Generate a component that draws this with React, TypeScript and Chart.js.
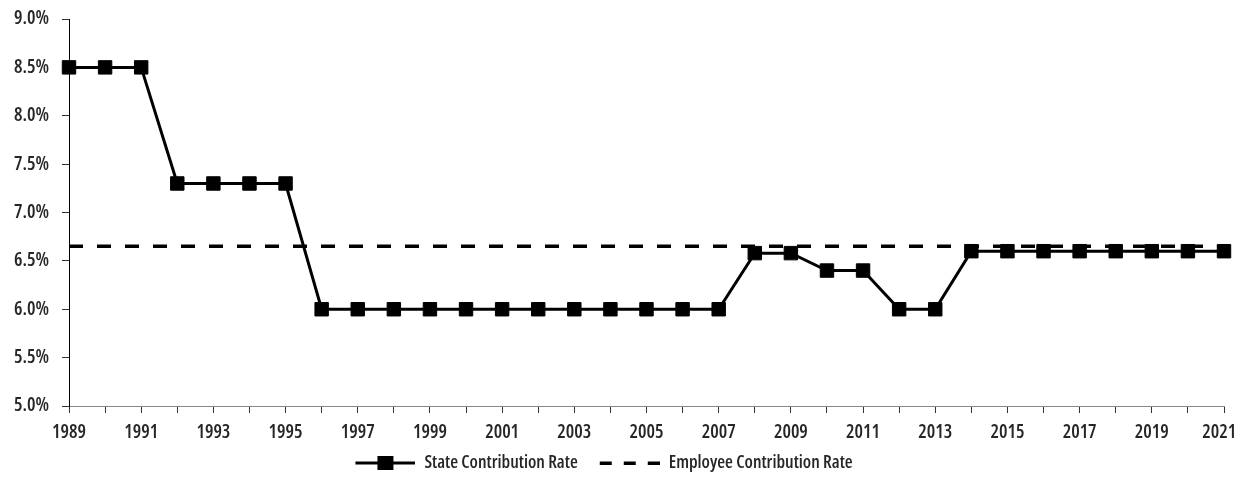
import React, { useEffect, useRef } from "react";
import { Chart, registerables } from "chart.js";

Chart.register(...registerables);

const years: string[] = [
  "1989","1990","1991","1992","1993","1994","1995","1996","1997","1998","1999",
  "2000","2001","2002","2003","2004","2005","2006","2007","2008","2009","2010",
  "2011","2012","2013","2014","2015","2016","2017","2018","2019","2020","2021",
];

const stateRate: number[] = [
  8.5, 8.5, 8.5, 7.3, 7.3, 7.3, 7.3, 6.0, 6.0, 6.0, 6.0,
  6.0, 6.0, 6.0, 6.0, 6.0, 6.0, 6.0, 6.0, 6.58, 6.58, 6.4,
  6.4, 6.0, 6.0, 6.6, 6.6, 6.6, 6.6, 6.6, 6.6, 6.6, 6.6,
];

const employeeRate: number[] = [
  6.65, 6.65, 6.65, 6.65, 6.65, 6.65, 6.65, 6.65, 6.65, 6.65, 6.65,
  6.65, 6.65, 6.65, 6.65, 6.65, 6.65, 6.65, 6.65, 6.65, 6.65, 6.65,
  6.65, 6.65, 6.65, 6.65, 6.65, 6.65, 6.65, 6.65, 6.65, 6.65, 6.65,
];

const FONT = "'Open Sans', 'DejaVu Sans Condensed', sans-serif";
const WEIGHT = "600 condensed";
const TEXT = "#262626";

function makeStateIcon(): HTMLCanvasElement {
  const c = document.createElement("canvas");
  c.width = 72;
  c.height = 16;
  const ctx = c.getContext("2d")!;
  ctx.fillStyle = "#000";
  ctx.fillRect(12, 6.5, 60, 3);
  ctx.fillRect(34, 1, 16, 14);
  return c;
}

function makeEmployeeIcon(): HTMLCanvasElement {
  const c = document.createElement("canvas");
  c.width = 72;
  c.height = 6;
  const ctx = c.getContext("2d")!;
  ctx.fillStyle = "#000";
  ctx.fillRect(12, 1.5, 12, 3.5);
  ctx.fillRect(36, 1.5, 12, 3.5);
  ctx.fillRect(60, 1.5, 12, 3.5);
  return c;
}

export default function App() {
  const ref = useRef<HTMLCanvasElement | null>(null);

  useEffect(() => {
    if (!ref.current) return;
    const stateIcon = makeStateIcon();
    const empIcon = makeEmployeeIcon();
    const last = years.length - 1;
    const chart = new Chart(ref.current, {
      type: "line",
      data: {
        labels: years,
        datasets: [
          {
            label: "State Contribution Rate",
            data: stateRate,
            borderColor: "#000",
            backgroundColor: "#000",
            borderWidth: 3,
            pointStyle: "rect",
            pointRadius: 9.5,
            pointBorderWidth: 1,
            pointBackgroundColor: "#000",
            pointBorderColor: "#000",
            tension: 0,
            order: 1,
          },
          {
            label: "Employee Contribution Rate",
            data: employeeRate,
            borderColor: "#000",
            backgroundColor: "#000",
            borderWidth: 3.5,
            borderDash: [14, 14],
            pointRadius: 0,
            tension: 0,
            order: 2,
          },
        ],
      },
      options: {
        animation: false,
        responsive: true,
        maintainAspectRatio: false,
        layout: { padding: { left: -36, right: 11, top: 11, bottom: -10 } },
        plugins: {
          tooltip: { enabled: false },
          legend: {
            position: "bottom",
            labels: {
              usePointStyle: true,
              pointStyleWidth: 72,
              padding: 10,
              color: TEXT,
              font: { family: FONT, size: 18, weight: WEIGHT },
              generateLabels: (ch: any) =>
                ch.data.datasets.map((ds: any, i: number) => ({
                  text: ds.label,
                  pointStyle: i === 0 ? stateIcon : empIcon,
                  fillStyle: "#000",
                  strokeStyle: "#000",
                  lineWidth: 0,
                  hidden: false,
                  datasetIndex: i,
                  fontColor: TEXT,
                })),
            },
          },
        },
        scales: {
          x: {
            type: "category",
            offset: false,
            afterFit: (s: any) => {
              s.height = 38;
              s.paddingLeft = 0;
              s.paddingRight = 0;
            },
            grid: {
              display: true,
              drawOnChartArea: false,
              drawTicks: true,
              tickLength: 7,
              color: "#333",
            },
            border: { display: true, color: "#888", width: 1 },
            ticks: {
              autoSkip: false,
              maxRotation: 0,
              color: TEXT,
              font: { family: FONT, size: 19, weight: WEIGHT },
              padding: 8,
              callback: (_v: any, idx: number) =>
                idx % 2 === 0 ? (idx === last ? years[idx] + "\u2002" : years[idx]) : "",
            },
          },
          y: {
            min: 5,
            max: 9,
            afterFit: (s: any) => {
              s.width = 97;
              s.paddingTop = 0;
              s.paddingBottom = 0;
            },
            grid: {
              display: true,
              drawOnChartArea: false,
              drawTicks: true,
              tickLength: 7,
              color: "#333",
            },
            border: { display: true, color: "#000", width: 1 },
            ticks: {
              stepSize: 0.5,
              color: TEXT,
              font: { family: FONT, size: 19, weight: WEIGHT },
              padding: 13,
              callback: (v: any) => Number(v).toFixed(1) + "%",
            },
          },
        },
      },
    });
    return () => chart.destroy();
  }, []);

  return (
    <div style={{ width: "100%", height: 464, position: "relative" }}>
      <canvas ref={ref} />
    </div>
  );
}
